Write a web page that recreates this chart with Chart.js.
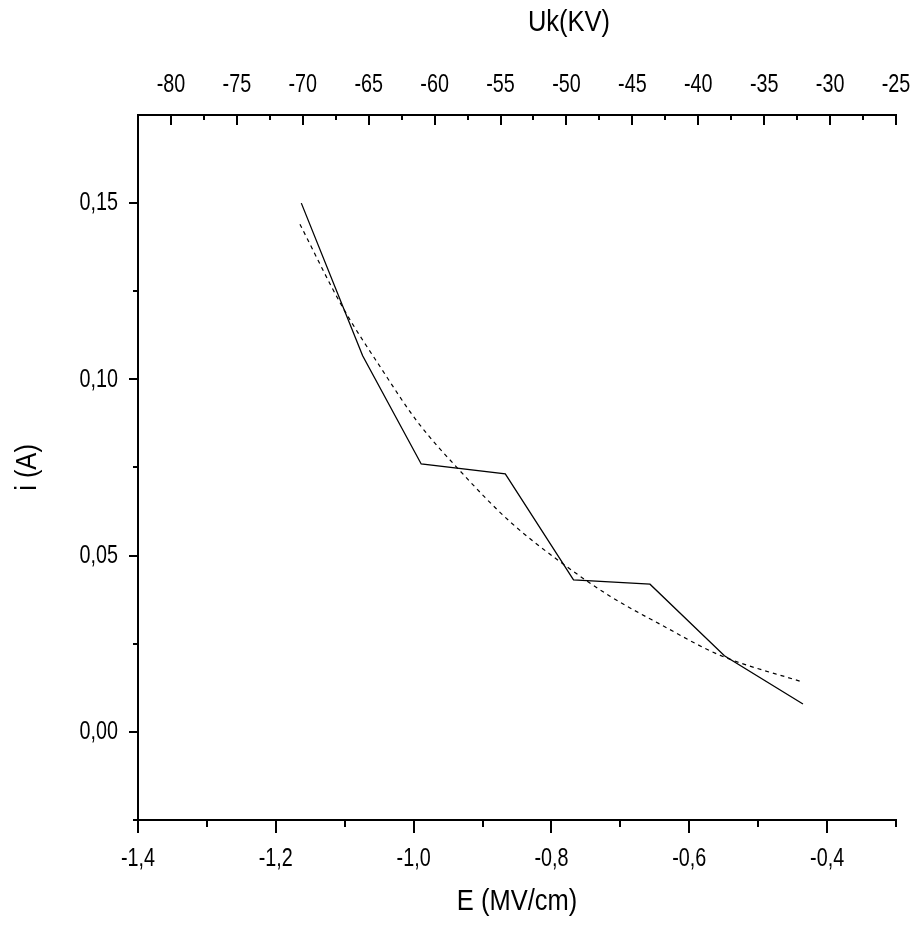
<!DOCTYPE html>
<html>
<head>
<meta charset="utf-8">
<script src="https://cdn.jsdelivr.net/npm/chart.js@4.4.1/dist/chart.umd.min.js"></script>
<style>
html,body{margin:0;padding:0;background:#fff;}
#wrap{width:910px;height:928px;position:relative;}
</style>
</head>
<body>
<div id="wrap"><canvas id="c"></canvas></div>
<script>
// measured curve: E (MV/cm) vs i (A)
const eField  = [-1.163, -1.074, -0.989, -0.867, -0.768, -0.657, -0.549, -0.435];
const current = [0.1500, 0.1067, 0.0760, 0.0732, 0.0431, 0.0419, 0.0216, 0.0079];
// fitted (dashed) curve
const fitE = [-1.165, -1.104, -1.046, -0.995, -0.932, -0.860, -0.787, -0.715, -0.642, -0.555, -0.435];
const fitI = [0.1440, 0.1208, 0.1028, 0.0881, 0.0739, 0.0596, 0.0482, 0.0385, 0.0305, 0.0217, 0.0141];
// tick values
const xTicks = [-1.4, -1.2, -1.0, -0.8, -0.6, -0.4];
const xMinor = [-1.3, -1.1, -0.9, -0.7, -0.5, -0.3];
const topTicks = [-80, -75, -70, -65, -60, -55, -50, -45, -40, -35, -30, -25];
const topMinor = [-82.5, -77.5, -72.5, -67.5, -62.5, -57.5, -52.5, -47.5, -42.5, -37.5, -32.5, -27.5];
const yTicks = [0, 0.05, 0.10, 0.15];
const yMinor = [-0.025, 0.025, 0.075, 0.125];

const FONT = "'Liberation Sans Narrow', 'Arial Narrow', 'Liberation Sans', Arial, sans-serif";

// condensed text rendering (narrow font look)
const canvas = document.getElementById('c');
const c2d = canvas.getContext('2d');
const squeeze = () => {
  const m = /(\d+(?:\.\d+)?)px/.exec(c2d.font);
  const size = m ? parseFloat(m[1]) : 12;
  return size >= 28 ? 0.85 : 0.76;
};
const origFill = c2d.fillText.bind(c2d);
const origMeasure = c2d.measureText.bind(c2d);
c2d.fillText = function (t, x, y, mw) {
  const sx = squeeze();
  c2d.save();
  c2d.translate(x, y);
  c2d.scale(sx, 1);
  if (mw !== undefined) origFill(t, 0, 0, mw / sx); else origFill(t, 0, 0);
  c2d.restore();
};
c2d.measureText = function (t) {
  const sx = squeeze();
  const m = origMeasure(t);
  return {
    width: m.width * sx,
    actualBoundingBoxAscent: m.actualBoundingBoxAscent,
    actualBoundingBoxDescent: m.actualBoundingBoxDescent,
    actualBoundingBoxLeft: m.actualBoundingBoxLeft * sx,
    actualBoundingBoxRight: m.actualBoundingBoxRight * sx
  };
};

const tickMarks = {
  id: 'tickMarks',
  afterDraw(chart) {
    const {ctx, chartArea: a, scales} = chart;
    ctx.save();
    ctx.strokeStyle = '#000';
    ctx.lineWidth = 2;
    const vert = (scale, vals, y0, len) => vals.forEach(v => {
      const p = Math.round(scale.getPixelForValue(v));
      ctx.beginPath(); ctx.moveTo(p, y0); ctx.lineTo(p, y0 + len); ctx.stroke();
    });
    const horiz = (scale, vals, x0, len) => vals.forEach(v => {
      const p = Math.round(scale.getPixelForValue(v));
      ctx.beginPath(); ctx.moveTo(x0, p); ctx.lineTo(x0 + len, p); ctx.stroke();
    });
    vert(scales.x, xTicks, a.bottom, 13);
    vert(scales.x, xMinor, a.bottom, 7);
    vert(scales.x2, topTicks, a.top, 10);
    vert(scales.x2, topMinor, a.top, 5);
    horiz(scales.y, yTicks, a.left, -9);
    horiz(scales.y, yMinor, a.left, -5);
    // top axis title
    ctx.fillStyle = '#000';
    ctx.font = '30px ' + FONT;
    ctx.textAlign = 'center';
    ctx.textBaseline = 'middle';
    ctx.fillText('Uk(KV)', (a.left + a.right) / 2 + 52, 23);
    ctx.restore();
  }
};

const commaFmt = d => v => Number(v).toFixed(d).replace('.', ',');
const noPad = s => { s.paddingLeft = 0; s.paddingRight = 0; s.paddingTop = 0; s.paddingBottom = 0; };

new Chart(canvas, {
  type: 'line',
  data: {
    datasets: [
      {
        data: eField.map((x, i) => ({x, y: current[i]})),
        borderColor: '#000', borderWidth: 1.3, pointRadius: 0, tension: 0, fill: false,
        xAxisID: 'x', yAxisID: 'y'
      },
      {
        data: fitE.map((x, i) => ({x, y: fitI[i]})),
        borderColor: '#000', borderWidth: 1.2, borderDash: [4, 4], pointRadius: 0,
        cubicInterpolationMode: 'monotone', fill: false,
        xAxisID: 'x', yAxisID: 'y'
      }
    ]
  },
  options: {
    responsive: true,
    maintainAspectRatio: false,
    animation: false,
    devicePixelRatio: 1,
    layout: { padding: { left: 0, right: 14, top: 0, bottom: 0 } },
    plugins: { legend: { display: false }, tooltip: { enabled: false } },
    scales: {
      x: {
        type: 'linear', position: 'bottom', min: -1.4, max: -0.3,
        grid: { display: false, drawTicks: false },
        border: { display: true, color: '#000', width: 2 },
        afterBuildTicks: s => { s.ticks = xTicks.map(v => ({value: v})); },
        afterFit: s => { s.height = 108; noPad(s); },
        ticks: { color: '#000', font: { family: FONT, size: 26 }, padding: 23, maxRotation: 0, autoSkip: false, callback: commaFmt(1) },
        title: { display: true, text: 'E (MV/cm)', color: '#000', font: { family: FONT, size: 30 }, padding: { top: 0, bottom: 8 } }
      },
      x2: {
        type: 'linear', position: 'top', min: -82.5, max: -25,
        grid: { display: false, drawTicks: false },
        border: { display: true, color: '#000', width: 2 },
        afterBuildTicks: s => { s.ticks = topTicks.map(v => ({value: v})); },
        afterFit: s => { s.height = 115; noPad(s); },
        ticks: { color: '#000', font: { family: FONT, size: 26 }, padding: 15, maxRotation: 0, autoSkip: false, callback: v => String(v) }
      },
      y: {
        type: 'linear', position: 'left', min: -0.025, max: 0.175,
        grid: { display: false, drawTicks: false },
        border: { display: true, color: '#000', width: 2 },
        afterBuildTicks: s => { s.ticks = yTicks.map(v => ({value: v})); },
        afterFit: s => { s.width = 138; noPad(s); },
        ticks: { color: '#000', font: { family: FONT, size: 26 }, padding: 20, autoSkip: false, callback: commaFmt(2) },
        title: { display: true, text: 'i (A)', color: '#000', font: { family: FONT, size: 30 }, padding: { top: 10, bottom: 0 } }
      }
    }
  },
  plugins: [tickMarks]
});
</script>
</body>
</html>
